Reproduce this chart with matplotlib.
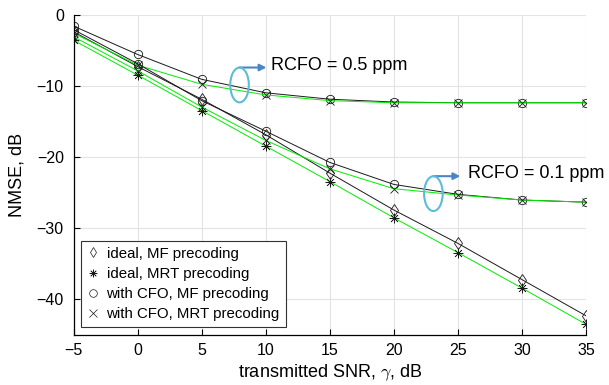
#
# python3 plot.py
#
import matplotlib
matplotlib.use('Agg')
import matplotlib.pyplot as plt
from matplotlib.patches import Ellipse

plt.rcParams['font.family'] = ['Liberation Sans', 'DejaVu Sans']
plt.rcParams['mathtext.fontset'] = 'cm'

# transmitted SNR, dB
snr = [-5, 0, 5, 10, 15, 20, 25, 30, 35]
# NMSE, dB
ideal_mf = [-2.3, -7.2, -11.8, -16.8, -22.2, -27.4, -32.1, -37.2, -42.3]
ideal_mrt = [-3.5, -8.4, -13.4, -18.4, -23.4, -28.5, -33.4, -38.4, -43.5]
cfo05_mf = [-1.5, -5.5, -9.0, -10.9, -11.8, -12.2, -12.3, -12.3, -12.3]
cfo05_mrt = [-2.5, -7.0, -9.7, -11.2, -12.0, -12.3, -12.3, -12.3, -12.3]
cfo01_mf = [-2.0, -6.8, -12.0, -16.3, -20.7, -23.8, -25.2, -26.0, -26.3]
cfo01_mrt = [-3.0, -7.8, -12.9, -17.6, -21.6, -24.4, -25.3, -26.0, -26.3]

labels = ['ideal, MF precoding', 'ideal, MRT precoding',
          'with CFO, MF precoding', 'with CFO, MRT precoding']

fig = plt.figure(figsize=(6.09, 3.85), dpi=100)
ax = fig.add_axes([0.1207, 0.13, 0.8415, 0.83])

ast = (8, 2, 0)  # matlab style asterisk
blk = dict(color='#1a1a1a', linewidth=0.7)
grn = dict(color='#00ee00', linewidth=0.7)
mk = dict(markersize=6, markeredgewidth=0.6, markeredgecolor='#1a1a1a',
          markerfacecolor='none')

ax.plot(snr, ideal_mf, marker='d', **blk, **mk)
ax.plot(snr, ideal_mrt, marker=ast, **grn, **dict(mk, markersize=7, markeredgewidth=0.5))
for mf, mrt in [(cfo05_mf, cfo05_mrt), (cfo01_mf, cfo01_mrt)]:
    ax.plot(snr, mf, marker='o', **blk, **mk)
    ax.plot(snr, mrt, marker='x', **grn, **mk)

# legend shows markers only
lmk = dict(mk, markersize=5.5, markeredgewidth=0.5)
hs = [ax.plot([], [], linestyle='none', marker=m, **lmk)[0]
      for m in ['d', ast, 'o', 'x']]
leg = ax.legend(hs, labels, loc='lower left', bbox_to_anchor=(0.0, 0.0),
                fontsize=10.8, handlelength=0.8, handletextpad=0.5,
                borderaxespad=0.5, labelspacing=0.42, fancybox=False,
                framealpha=1, edgecolor='#333333', borderpad=0.4)
leg.get_frame().set_linewidth(0.8)

# RCFO marks
ecol = '#5bbdd6'
acol = '#4a86c6'
for (ex, ey, ay, tx, ty, txt) in [(7.96, -9.8, -7.34, 10.42, -7.06, 'RCFO = 0.5 ppm'),
                                   (23.09, -25.1, -22.64, 25.8, -22.2, 'RCFO = 0.1 ppm')]:
    ax.add_patch(Ellipse((ex, ey), 1.45, 4.9, fill=False, edgecolor=ecol,
                         linewidth=1.5, zorder=5))
    ax.annotate('', xy=(ex + 2.1, ay), xytext=(ex, ay),
                arrowprops=dict(arrowstyle='-|>', color=acol, lw=1.5,
                                mutation_scale=10, shrinkA=0, shrinkB=0))
    ax.text(tx, ty, txt, fontsize=13, va='center', ha='left')

ax.set_xlim(-5, 35)
ax.set_ylim(-45, 0)
ax.set_xticks(range(-5, 36, 5))
ax.set_yticks([-40, -30, -20, -10, 0])
ax.set_xticklabels([str(v).replace('-', '\u2212') for v in range(-5, 36, 5)])
ax.set_yticklabels(['\u221240', '\u221230', '\u221220', '\u221210', '0'])
ax.tick_params(direction='in', length=4, width=0.8, labelsize=11.5)
ax.tick_params(axis='y', pad=7)
ax.tick_params(axis='x', pad=6)
ax.grid(True, color='#e3e3e3', linewidth=0.8)
ax.set_axisbelow(True)
for s in ['top', 'right']:
    ax.spines[s].set_visible(False)
for s in ['left', 'bottom']:
    ax.spines[s].set_linewidth(0.9)

ax.set_xlabel(r'transmitted SNR, $\gamma$, dB', fontsize=13, labelpad=3)
ax.set_ylabel('NMSE, dB', fontsize=13, labelpad=8)

plt.savefig('out.png', dpi=100)
